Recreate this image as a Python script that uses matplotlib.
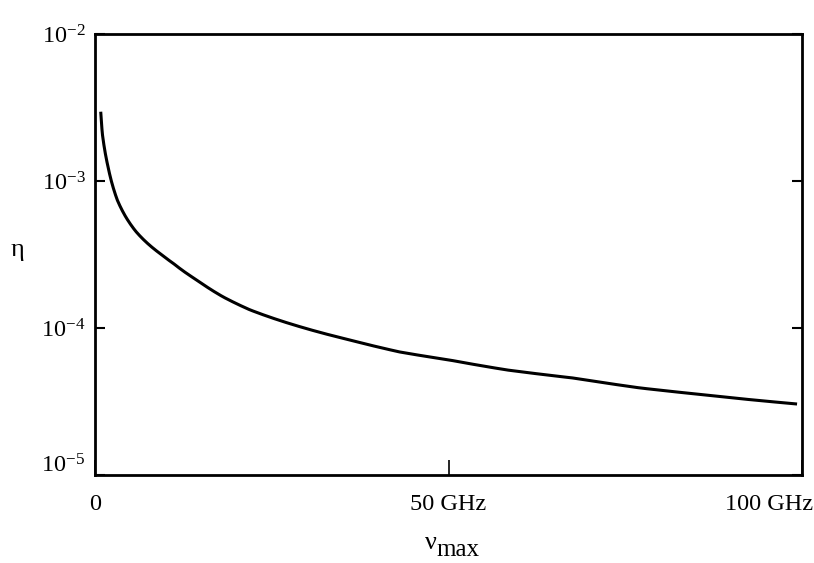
import numpy as np
import matplotlib
matplotlib.use('Agg')
from matplotlib import pyplot as plt
from matplotlib.transforms import ScaledTranslation

# curve: frequency (GHz) and eta
nu_ghz = [0.81, 1.03, 1.37, 1.84, 2.31, 3.15, 4.34, 5.76, 9.05, 11.0, 14.4,
          18.1, 21.9, 29.0, 36.1, 43.1, 50.2, 58.3, 67.6, 77.1, 83.7, 93.1, 99.3]
eta = [2.96e-3, 2.11e-3, 1.63e-3, 1.25e-3, 1.0e-3, 7.43e-4, 5.71e-4, 4.55e-4,
       3.25e-4, 2.77e-4, 2.12e-4, 1.63e-4, 1.33e-4, 1.02e-4, 8.28e-5, 6.87e-5,
       6.05e-5, 5.18e-5, 4.57e-5, 3.91e-5, 3.61e-5, 3.24e-5, 3.04e-5]

xticks = [0, 50, 100]
xlabels = ['0', '50 GHz', '100 GHz']
yticks = [1e-5, 1e-4, 1e-3, 1e-2]
ylabels = [r'$\mathregular{10^{-5}}$', r'$\mathregular{10^{-4}}$',
           r'$\mathregular{10^{-3}}$', r'$\mathregular{10^{-2}}$']

plt.rcParams['font.family'] = ['Liberation Serif', 'DejaVu Serif']
plt.rcParams['mathtext.fontset'] = 'custom'
plt.rcParams['mathtext.rm'] = 'Liberation Serif'
plt.rcParams['mathtext.it'] = 'Liberation Serif:italic'

W, H = 814, 563
fig = plt.figure(figsize=(W / 100, H / 100), dpi=100)
ax = fig.add_axes([95 / W, 1 - 475 / H, 707 / W, 441 / H])

# join the read points smoothly in log-log space
lx = np.log10(nu_ghz)
xs = np.logspace(lx[0], lx[-1], 600)
ys = 10 ** np.interp(np.log10(xs), lx, np.log10(eta))
ax.plot(xs, ys, color='black', lw=2.2, solid_capstyle='butt')

ax.set_yscale('log')
ax.set_xlim(0, 100)
ax.set_ylim(1e-5, 1e-2)

ax.set_xticks(xticks)
ax.set_xticklabels(xlabels, fontsize=17.5)
ax.set_yticks(yticks)
ax.set_yticklabels(ylabels, fontsize=17.5)
ax.yaxis.set_minor_locator(matplotlib.ticker.NullLocator())

ax.tick_params(axis='y', direction='in', length=7, width=1.5, right=True, pad=7)
ax.tick_params(axis='x', direction='in', length=11, width=1.2, pad=14)

for s in ax.spines.values():
    s.set_linewidth(2)

# last x label sits to the left of the corner
lab = ax.get_xticklabels()[-1]
lab.set_horizontalalignment('right')
lab.set_transform(lab.get_transform() + ScaledTranslation(8 / 72, 0, fig.dpi_scale_trans))
# lowest y label is raised above its tick
lab = ax.get_yticklabels()[0]
lab.set_transform(lab.get_transform() + ScaledTranslation(0, 12 / 100, fig.dpi_scale_trans))

fig.text(17 / W, 1 - 250 / H, 'η', fontsize=19, ha='center', va='center')
fig.text(425 / W, 1 - 549 / H, 'ν', fontsize=19, ha='left', va='baseline')
fig.text(436 / W, 1 - 556 / H, 'max', fontsize=18, ha='left', va='baseline')

fig.savefig('out.png', dpi=100, facecolor='white')
